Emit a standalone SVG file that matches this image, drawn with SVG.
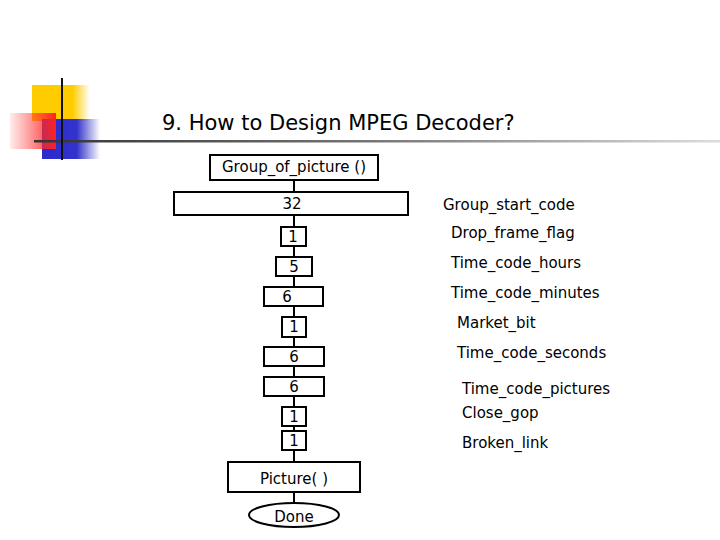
<svg xmlns="http://www.w3.org/2000/svg" width="720" height="540" viewBox="0 0 720 540">
<defs>
<linearGradient id="ry" x1="0" x2="1"><stop offset="0" stop-color="#ffcc00"/><stop offset="0.7" stop-color="#ffcc00"/><stop offset="1" stop-color="#ffcc00" stop-opacity="0"/></linearGradient>
<linearGradient id="rr" x1="1" x2="0"><stop offset="0" stop-color="#ff2020"/><stop offset="1" stop-color="#ff4040" stop-opacity="0.1"/></linearGradient>
<linearGradient id="rb" x1="0" x2="1"><stop offset="0" stop-color="#2a2acc"/><stop offset="0.6" stop-color="#3333cc"/><stop offset="1" stop-color="#3333cc" stop-opacity="0"/></linearGradient>
<linearGradient id="hl" x1="0" x2="1"><stop offset="0" stop-color="#333"/><stop offset="0.5" stop-color="#777"/><stop offset="1" stop-color="#ddd"/></linearGradient>
<style>
.b{fill:#fff;stroke:#000;stroke-width:2}
.t{font-family:Tahoma,"DejaVu Sans",sans-serif;font-size:15px;text-anchor:middle;fill:#000}
.l{font-family:Tahoma,"DejaVu Sans",sans-serif;font-size:15px;fill:#000}
</style>
</defs>
<rect x="32" y="85" width="58" height="36" fill="url(#ry)"/>
<rect x="42" y="119" width="58" height="40" fill="url(#rb)"/>
<rect x="10" y="113" width="46" height="36" fill="url(#rr)"/>
<rect x="34" y="140" width="686" height="2.5" fill="url(#hl)"/>
<line x1="62" y1="78" x2="62" y2="160" stroke="#111" stroke-width="2"/>
<text x="162" y="130" font-family="Tahoma,'DejaVu Sans',sans-serif" font-size="21" fill="#000">9. How to Design MPEG Decoder?</text>
<g id="connectors"><line x1="294" y1="180" x2="294" y2="503" stroke="#000" stroke-width="2"/></g>
<g id="n0"><rect class="b" x="210" y="155" width="168" height="25"/><text class="t" x="294" y="172">Group_of_picture ()</text></g>
<g id="n1"><rect class="b" x="174" y="192" width="234" height="23"/><text class="t" x="292" y="209" fill="#444">32</text></g>
<g id="n2"><rect class="b" x="281" y="227" width="25" height="19"/><text class="t" x="293" y="242">1</text></g>
<g id="n3"><rect class="b" x="276" y="257" width="36" height="19"/><text class="t" x="294" y="272">5</text></g>
<g id="n4"><rect class="b" x="264" y="287" width="59" height="19"/><text class="t" x="287" y="302">6</text></g>
<g id="n5"><rect class="b" x="282" y="317" width="24" height="20"/><text class="t" x="294" y="332">1</text></g>
<g id="n6"><rect class="b" x="264" y="347" width="60" height="19"/><text class="t" x="294" y="362">6</text></g>
<g id="n7"><rect class="b" x="264" y="377" width="60" height="19"/><text class="t" x="294" y="392">6</text></g>
<g id="n8"><rect class="b" x="282" y="407" width="24" height="19"/><text class="t" x="294" y="422">1</text></g>
<g id="n9"><rect class="b" x="282" y="431" width="24" height="19"/><text class="t" x="294" y="446">1</text></g>
<g id="n10"><rect class="b" x="228" y="462" width="132" height="30"/><text class="t" x="294" y="484" font-size="18">Picture( )</text></g>
<g id="n11"><ellipse class="b" cx="294" cy="515" rx="45" ry="12"/><text class="t" x="294" y="522" font-size="18">Done</text></g>
<text class="l" x="443" y="210" font-size="18">Group_start_code</text>
<text class="l" x="451" y="238">Drop_frame_flag</text>
<text class="l" x="451" y="268">Time_code_hours</text>
<text class="l" x="451" y="298">Time_code_minutes</text>
<text class="l" x="457" y="328">Market_bit</text>
<text class="l" x="457" y="358">Time_code_seconds</text>
<text class="l" x="462" y="394">Time_code_pictures</text>
<text class="l" x="462" y="418">Close_gop</text>
<text class="l" x="462" y="448">Broken_link</text>
</svg>
